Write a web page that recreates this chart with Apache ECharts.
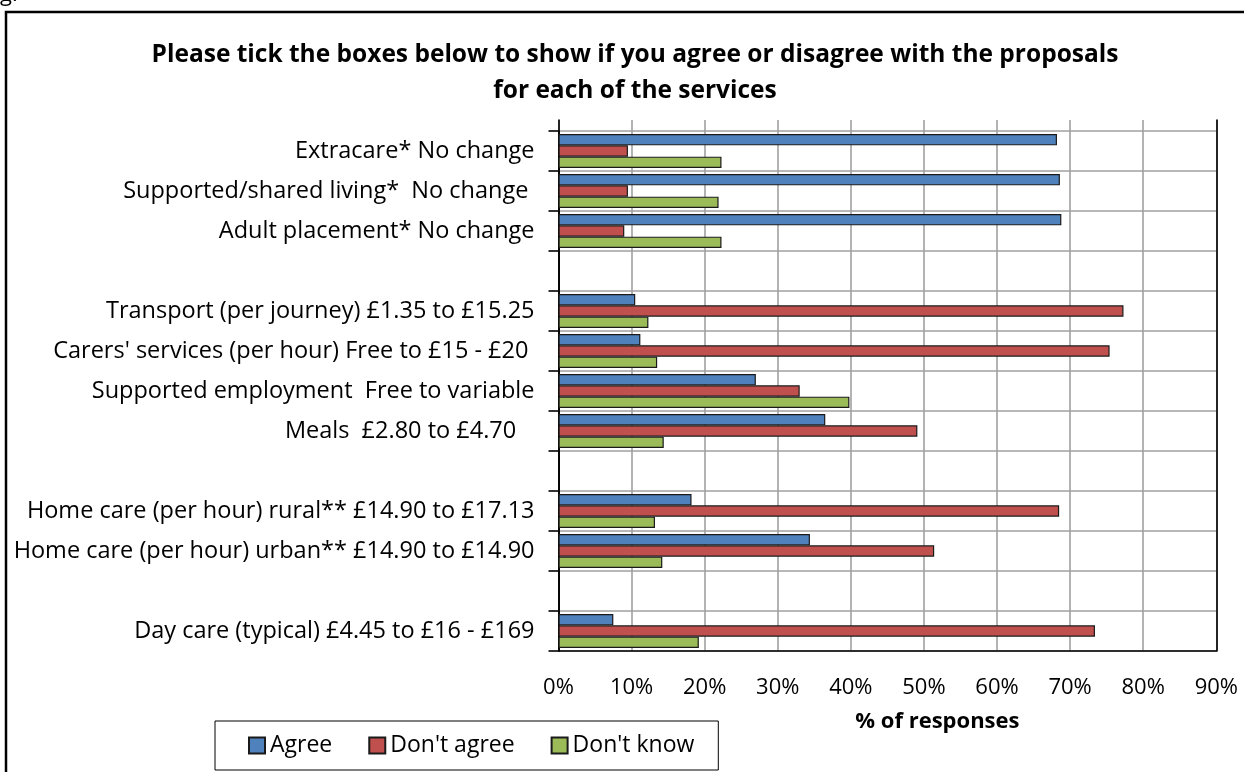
<!DOCTYPE html>
<html>
<head>
<meta charset="utf-8">
<script src="https://cdn.jsdelivr.net/npm/echarts@6/dist/echarts.min.js"></script>
<style>
html,body{margin:0;padding:0;background:#fff;}
#chart{width:1244px;height:772px;}
</style>
</head>
<body>
<div id="chart"></div>
<script>
var categories = [
  "Extracare* No change",
  "Supported/shared living*  No change ",
  "Adult placement* No change",
  " ",
  "Transport (per journey) £1.35 to £15.25",
  "Carers' services (per hour) Free to £15 - £20 ",
  "Supported employment  Free to variable",
  "Meals  £2.80 to £4.70   ",
  "  ",
  "Home care (per hour) rural** £14.90 to £17.13",
  "Home care (per hour) urban** £14.90 to £14.90",
  "   ",
  "Day care (typical) £4.45 to £16 - £169"
];
var agree     = [68.2, 68.6, 68.8, null, 10.5, 11.2, 27.0, 36.5, null, 18.2, 34.4, null, 7.5];
var dontAgree = [9.5, 9.5, 9.0, null, 77.3, 75.4, 33.0, 49.1, null, 68.5, 51.4, null, 73.4];
var dontKnow  = [22.3, 21.9, 22.3, null, 12.3, 13.5, 39.8, 14.4, null, 13.2, 14.2, null, 19.2];
var seriesNames = ["Agree", "Don't agree", "Don't know"];
var xTicks = {min: 0, max: 90, interval: 10};

var FONT = "Open Sans";
var chart = echarts.init(document.getElementById('chart'), null, {renderer: 'canvas'});
var barBase = {
  type: 'bar', xAxisIndex: 1, yAxisIndex: 2,
  barGap: '0%', barCategoryGap: '15%'
};
var colors = ['#4F81BD', '#C0504D', '#9BBB59'];
var vals = [agree, dontAgree, dontKnow];
var series = seriesNames.map(function (n, i) {
  return Object.assign({}, barBase, {
    name: n, data: vals[i],
    itemStyle: {color: colors[i], borderColor: '#1a1a1a', borderWidth: 1.2}
  });
});

chart.setOption({
  animation: false,
  backgroundColor: '#fff',
  title: {
    text: 'Please tick the boxes below to show if you agree or disagree with the proposals\nfor each of the services',
    left: 630, textAlign: 'center', top: 32,
    textStyle: {fontFamily: FONT, fontWeight: 'bold', fontSize: 24.5, lineHeight: 36, color: '#000'}
  },
  graphic: [
    {type: 'rect', shape: {x: 6, y: 12, width: 1260, height: 790}, style: {fill: 'none', stroke: '#000', lineWidth: 2.5}, silent: true, z: -1},
    {type: 'text', left: 0, top: -16, style: {text: 'g.', font: '22px ' + FONT, fill: '#000'}}
  ],
  legend: {
    data: seriesNames,
    left: 215, top: 721,
    padding: [13, 24, 13, 33],
    itemWidth: 16, itemHeight: 16, itemGap: 36,
    icon: 'rect',
    borderColor: '#000', borderWidth: 1,
    textStyle: {fontFamily: FONT, fontSize: 23, color: '#000'}
  },
  grid: [
    {left: 558.5, right: 27.7, top: 120, bottom: 121, containLabel: false},
    {left: 558.5, right: 27.7, top: 131, bottom: 121, containLabel: false}
  ],
  xAxis: [
    {gridIndex: 0, type: 'value', min: xTicks.min, max: xTicks.max, interval: xTicks.interval,
     axisLine: {show: false}, axisTick: {show: false}, axisLabel: {show: false},
     splitLine: {show: true, lineStyle: {color: '#a0a0a0', width: 1.6}}},
    {gridIndex: 1, type: 'value', min: xTicks.min, max: xTicks.max, interval: xTicks.interval,
     position: 'bottom',
     axisLine: {show: true, lineStyle: {color: '#000', width: 1.6}},
     axisTick: {show: false},
     splitLine: {show: false},
     axisLabel: {formatter: '{value}%', fontFamily: FONT, fontSize: 22, color: '#000', margin: 26},
     name: '% of responses', nameLocation: 'middle', nameGap: 60,
     nameTextStyle: {fontFamily: FONT, fontWeight: 'bold', fontSize: 22, color: '#000', padding: [0, 0, 0, 100]}}
  ],
  yAxis: [
    {gridIndex: 0, type: 'value', min: 0, max: 1, position: 'left',
     axisLine: {show: true, lineStyle: {color: '#000', width: 1.6}},
     axisTick: {show: false}, axisLabel: {show: false}, splitLine: {show: false}},
    {gridIndex: 0, type: 'value', min: 0, max: 1, position: 'right',
     axisLine: {show: true, lineStyle: {color: '#000', width: 1.6}},
     axisTick: {show: false}, axisLabel: {show: false}, splitLine: {show: false}},
    {gridIndex: 1, type: 'category', data: categories, inverse: true,
     axisLine: {show: true, lineStyle: {color: '#000', width: 1.6}},
     axisTick: {show: true, length: 10, lineStyle: {color: '#000', width: 1.6}},
     splitLine: {show: true, lineStyle: {color: '#a0a0a0', width: 1.6}},
     axisLabel: {fontFamily: FONT, fontSize: 23.5, color: '#000', margin: 24, interval: 0}}
  ],
  series: series
});
</script>
</body>
</html>
